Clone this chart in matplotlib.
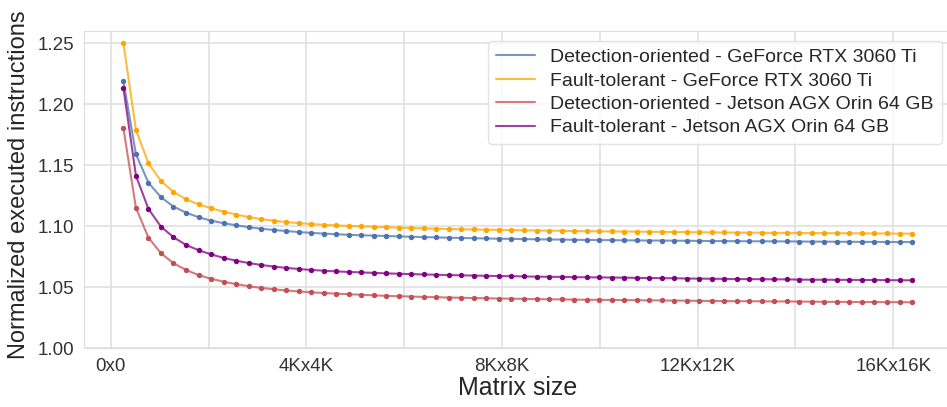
import numpy as np
import matplotlib
matplotlib.use("Agg")
import matplotlib.pyplot as plt
import seaborn as sns

# Matrix sizes (N for an NxN matrix), 256 to 16384 in steps of 256
matrix_n = np.arange(256, 16384 + 1, 256)

det_rtx = [
    1.2190, 1.1590, 1.1357, 1.1238, 1.1161, 1.1112, 1.1074, 1.1046, 1.1025, 1.1008,
    1.0993, 1.0980, 1.0970, 1.0961, 1.0953, 1.0946, 1.0940, 1.0935, 1.0930, 1.0926,
    1.0924, 1.0920, 1.0917, 1.0914, 1.0911, 1.0909, 1.0906, 1.0904, 1.0902, 1.0900,
    1.0898, 1.0897, 1.0895, 1.0893, 1.0892, 1.0891, 1.0889, 1.0888, 1.0887, 1.0886,
    1.0885, 1.0884, 1.0883, 1.0883, 1.0882, 1.0881, 1.0880, 1.0879, 1.0878, 1.0878,
    1.0877, 1.0877, 1.0876, 1.0876, 1.0875, 1.0874, 1.0874, 1.0873, 1.0873, 1.0872,
    1.0872, 1.0871, 1.0871, 1.0871,
]
ft_rtx = [
    1.2500, 1.1790, 1.1516, 1.1371, 1.1281, 1.1221, 1.1180, 1.1148, 1.1120, 1.1096,
    1.1076, 1.1059, 1.1046, 1.1035, 1.1026, 1.1018, 1.1012, 1.1007, 1.1003, 1.1000,
    1.0996, 1.0992, 1.0989, 1.0986, 1.0983, 1.0981, 1.0978, 1.0976, 1.0974, 1.0972,
    1.0970, 1.0969, 1.0967, 1.0965, 1.0964, 1.0963, 1.0961, 1.0960, 1.0959, 1.0958,
    1.0957, 1.0956, 1.0955, 1.0954, 1.0953, 1.0952, 1.0951, 1.0950, 1.0949, 1.0948,
    1.0948, 1.0947, 1.0946, 1.0946, 1.0945, 1.0944, 1.0944, 1.0943, 1.0943, 1.0942,
    1.0942, 1.0941, 1.0940, 1.0940,
]
det_orin = [
    1.1803, 1.1152, 1.0907, 1.0779, 1.0697, 1.0642, 1.0600, 1.0570, 1.0546, 1.0526,
    1.0509, 1.0495, 1.0484, 1.0474, 1.0466, 1.0459, 1.0453, 1.0448, 1.0443, 1.0439,
    1.0434, 1.0430, 1.0427, 1.0424, 1.0421, 1.0419, 1.0416, 1.0414, 1.0412, 1.0410,
    1.0408, 1.0407, 1.0405, 1.0403, 1.0402, 1.0401, 1.0399, 1.0398, 1.0397, 1.0396,
    1.0395, 1.0394, 1.0393, 1.0392, 1.0391, 1.0390, 1.0389, 1.0388, 1.0387, 1.0386,
    1.0386, 1.0385, 1.0384, 1.0384, 1.0383, 1.0382, 1.0381, 1.0381, 1.0380, 1.0379,
    1.0379, 1.0378, 1.0378, 1.0377,
]
ft_orin = [
    1.2134, 1.1415, 1.1142, 1.0997, 1.0910, 1.0847, 1.0804, 1.0770, 1.0741, 1.0718,
    1.0699, 1.0683, 1.0670, 1.0659, 1.0650, 1.0642, 1.0636, 1.0630, 1.0626, 1.0622,
    1.0618, 1.0614, 1.0611, 1.0608, 1.0605, 1.0603, 1.0600, 1.0598, 1.0596, 1.0594,
    1.0592, 1.0591, 1.0589, 1.0587, 1.0586, 1.0585, 1.0583, 1.0582, 1.0581, 1.0580,
    1.0579, 1.0577, 1.0576, 1.0575, 1.0574, 1.0572, 1.0571, 1.0570, 1.0569, 1.0567,
    1.0567, 1.0566, 1.0565, 1.0565, 1.0563, 1.0562, 1.0562, 1.0561, 1.0561, 1.0560,
    1.0560, 1.0558, 1.0558, 1.0557,
]

series_labels = [
    "Detection-oriented - GeForce RTX 3060 Ti",
    "Fault-tolerant - GeForce RTX 3060 Ti",
    "Detection-oriented - Jetson AGX Orin 64 GB",
    "Fault-tolerant - Jetson AGX Orin 64 GB",
]
series_colors = ["#4c72b0", "#ffa500", "#c44e52", "#800080"]

tick_pos = list(range(0, 16001, 2000))
tick_labels = ["0x0", "", "4Kx4K", "", "8Kx8K", "", "12Kx12K", "", "16Kx16K"]

sns.set_style("whitegrid")
plt.rcParams["font.family"] = ["Liberation Sans", "DejaVu Sans"]

fig = plt.figure(figsize=(9.47, 4.07), dpi=100)
ax = fig.add_axes([0.0887, 0.1442, 0.916, 0.7796])

for ys, lab, col in zip([det_rtx, ft_rtx, det_orin, ft_orin], series_labels, series_colors):
    ax.plot(matrix_n, ys, color=col, lw=1.5, alpha=0.75, label=lab)
    ax.scatter(matrix_n, ys, color=col, s=15, zorder=3, linewidths=0)

ax.set_ylim(1.0, 1.26)
ax.set_yticks([1.00, 1.05, 1.10, 1.15, 1.20, 1.25])
ax.set_yticklabels(["1.00", "1.05", "1.10", "1.15", "1.20", "1.25"])
ax.set_xlim(-550, 17190)
ax.set_xticks(tick_pos)
ax.set_xticklabels(tick_labels)
ax.tick_params(labelsize=13.5, colors="#333333")
ax.grid(True, color="#e0e0e0", lw=1.2)
for sp in ax.spines.values():
    sp.set_color("#dddddd")

ax.set_xlabel("Matrix size", fontsize=18, color="#262626", labelpad=1)
ax.set_ylabel("Normalized executed instructions", fontsize=17, color="#262626")
ax.yaxis.set_label_coords(-0.062, 0.515)

leg = ax.legend(loc="upper right", fontsize=14, frameon=True, borderaxespad=0.5,
                handlelength=2.0, labelspacing=0.3, borderpad=0.4)
leg.get_frame().set_edgecolor("#dddddd")

fig.savefig("out.png", dpi=100)
